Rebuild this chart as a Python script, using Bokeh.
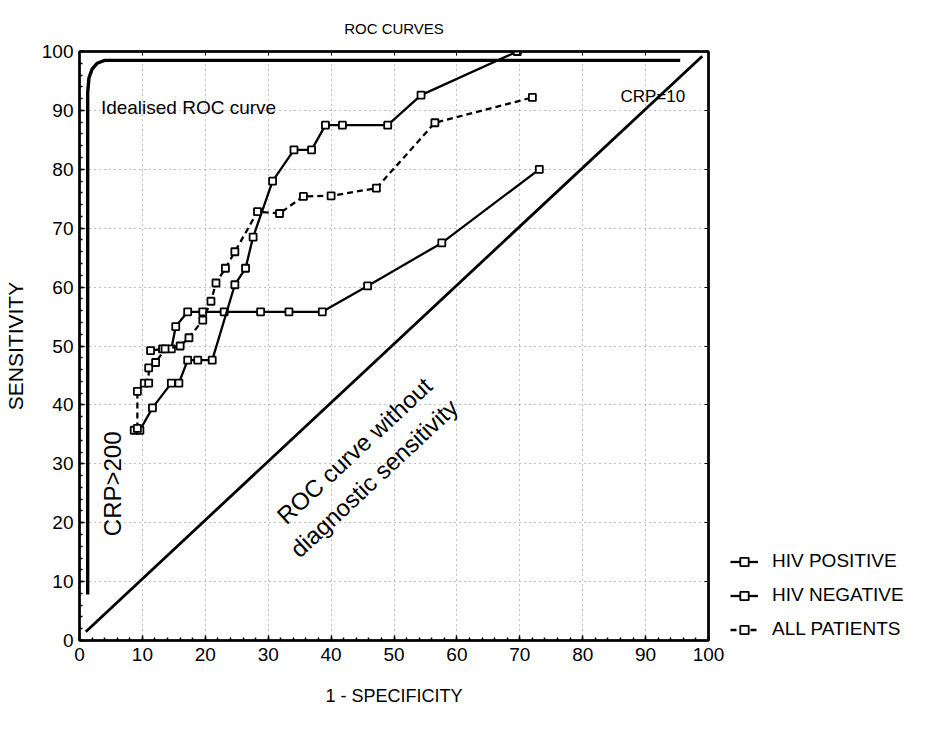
from bokeh.plotting import figure
from bokeh.models import Range1d, Label, Legend, LegendItem, LinearAxis, FixedTicker
from bokeh.layouts import row
from bokeh.embed import file_html
from bokeh.resources import INLINE

FONT = "Liberation Sans"

# ---- data ----
tick_vals = [0, 10, 20, 30, 40, 50, 60, 70, 80, 90, 100]

neg_x = [8.7, 9.6, 11.6, 14.6, 15.8, 17.2, 18.8, 21.1, 24.7, 26.4, 27.6, 30.7, 34.1, 36.9, 39.1, 41.8, 49.0, 54.3, 69.6]
neg_y = [35.7, 35.7, 39.5, 43.7, 43.7, 47.6, 47.6, 47.6, 60.4, 63.2, 68.5, 78.0, 83.3, 83.3, 87.5, 87.5, 87.5, 92.6, 100.0]

pos_x = [11.3, 13.2, 14.6, 15.3, 17.2, 19.6, 23.0, 28.8, 33.3, 38.6, 45.8, 57.6, 73.1]
pos_y = [49.2, 49.5, 49.5, 53.3, 55.8, 55.8, 55.8, 55.8, 55.8, 55.8, 60.2, 67.5, 80.0]

all_x = [9.2, 9.2, 10.3, 11.0, 11.0, 12.1, 13.6, 16.0, 17.4, 19.6, 20.9, 21.7, 23.2, 24.7, 28.3, 31.8, 35.6, 40.0, 47.2, 56.5, 72.0]
all_y = [36.0, 42.3, 43.7, 43.7, 46.3, 47.2, 49.5, 50.0, 51.4, 54.4, 57.6, 60.7, 63.2, 66.0, 72.8, 72.5, 75.4, 75.5, 76.8, 87.9, 92.2]

ideal_x = [1.3, 1.3, 1.5, 2.0, 2.8, 4.0, 95.5]
ideal_y = [7.8, 93.0, 95.5, 97.0, 98.0, 98.5, 98.5]

chance_x = [1.0, 99.0]
chance_y = [1.5, 99.2]

series = [
    ("HIV POSITIVE", pos_x, pos_y, "solid"),
    ("HIV NEGATIVE", neg_x, neg_y, "solid"),
    ("ALL PATIENTS", all_x, all_y, "6 4"),
]

p = figure(frame_width=629, frame_height=589, x_range=Range1d(0, 100), y_range=Range1d(0, 100),
           output_backend="svg", toolbar_location=None,
           min_border_left=79, min_border_right=22, min_border_top=51, min_border_bottom=72,
           title="ROC CURVES")
p.title.align = "center"
p.title.text_font = FONT
p.title.text_font_size = "15px"
p.title.text_font_style = "normal"
p.title.text_color = "black"
p.title.standoff = 30

p.outline_line_color = "black"
p.outline_line_width = 2.5
p.background_fill_color = "white"
p.border_fill_color = "white"

for ax in (p.xaxis[0], p.yaxis[0]):
    ax.ticker = FixedTicker(ticks=tick_vals, minor_ticks=list(range(0, 101, 2)))
    ax.major_label_text_font = FONT
    ax.major_label_text_font_size = "19px"
    ax.major_label_text_color = "black"
    ax.axis_label_text_font = FONT
    ax.axis_label_text_font_style = "normal"
    ax.axis_label_text_color = "black"
    ax.axis_line_color = "black"
    ax.axis_line_width = 2
    ax.major_tick_in = 5
    ax.major_tick_out = 0
    ax.minor_tick_in = 3
    ax.minor_tick_out = 0
    ax.major_tick_line_width = 1.5
    ax.minor_tick_line_width = 1.5

p.xaxis.axis_label = "1 - SPECIFICITY"
p.xaxis.axis_label_text_font_size = "18px"
p.xaxis.major_label_standoff = 7
p.xaxis.axis_label_standoff = 22
p.yaxis.axis_label = "SENSITIVITY"
p.yaxis.axis_label_text_font_size = "21px"
p.yaxis.major_label_standoff = 6
p.yaxis.axis_label_standoff = 12

for loc in ("right", "above"):
    a = LinearAxis(ticker=FixedTicker(ticks=tick_vals), major_label_text_font_size="0px",
                   major_tick_in=4, major_tick_out=0, minor_tick_in=0, minor_tick_out=0,
                   axis_line_color="black", axis_line_width=2, major_label_standoff=0)
    p.add_layout(a, loc)

p.grid.ticker = FixedTicker(ticks=tick_vals)
p.grid.grid_line_color = "black"
p.grid.grid_line_alpha = 0.5
p.grid.grid_line_dash = "1 4"
p.grid.grid_line_width = 1

# reference lines
p.line(ideal_x, ideal_y, line_color="black", line_width=3.4)
p.line(chance_x, chance_y, line_color="black", line_width=2.8)

mk = dict(size=7, fill_color="white", line_color="black", line_width=1.8)
for name, xs, ys, dash in series:
    p.line(xs, ys, line_color="black", line_width=2.3, line_dash=dash)
    p.scatter(xs, ys, marker="square", **mk)

p.add_layout(Label(x=3.4, y=90.5, text="Idealised ROC curve", text_font=FONT,
                   text_font_size="19px", text_color="black", text_baseline="alphabetic"))
p.add_layout(Label(x=86.0, y=92.4, text="CRP=10", text_font=FONT,
                   text_font_size="17px", text_color="black", text_baseline="alphabetic"))
p.add_layout(Label(x=5.2, y=26.6, text="CRP>200", text_font=FONT, text_font_size="24px",
                   text_color="black", angle=90, angle_units="deg",
                   text_align="center", text_baseline="middle"))
p.add_layout(Label(x=32.0, y=20.6, text="ROC curve without", text_font=FONT, text_font_size="24px",
                   text_color="black", angle=43, angle_units="deg", text_baseline="alphabetic"))
p.add_layout(Label(x=34.1, y=14.9, text="diagnostic sensitivity", text_font=FONT, text_font_size="24px",
                   text_color="black", angle=43, angle_units="deg", text_baseline="alphabetic"))

# legend panel: same series, drawn outside this panel's visible range, used only for the key
q = figure(width=200, height=712, x_range=Range1d(0, 1), y_range=Range1d(0, 1),
           output_backend="svg", toolbar_location=None, x_axis_type=None, y_axis_type=None,
           min_border=0)
q.outline_line_color = None
q.grid.visible = False
q.background_fill_color = "white"
q.border_fill_color = "white"
items = []
for name, xs, ys, dash in series:
    r1 = q.line(xs, ys, line_color="black", line_width=2.3, line_dash=dash)
    r2 = q.scatter(xs, ys, marker="square", **mk)
    items.append(LegendItem(label=name, renderers=[r1, r2]))
legend = Legend(items=items, location=(0, 0), padding=0, margin=0, spacing=12,
                label_height=21, glyph_height=21, glyph_width=28, label_standoff=14,
                border_line_alpha=0, background_fill_alpha=0,
                label_text_font=FONT, label_text_font_size="19px", label_text_color="black")
q.add_layout(legend)

layout = row(p, q)
open("out.html", "w").write(file_html(layout, INLINE))
